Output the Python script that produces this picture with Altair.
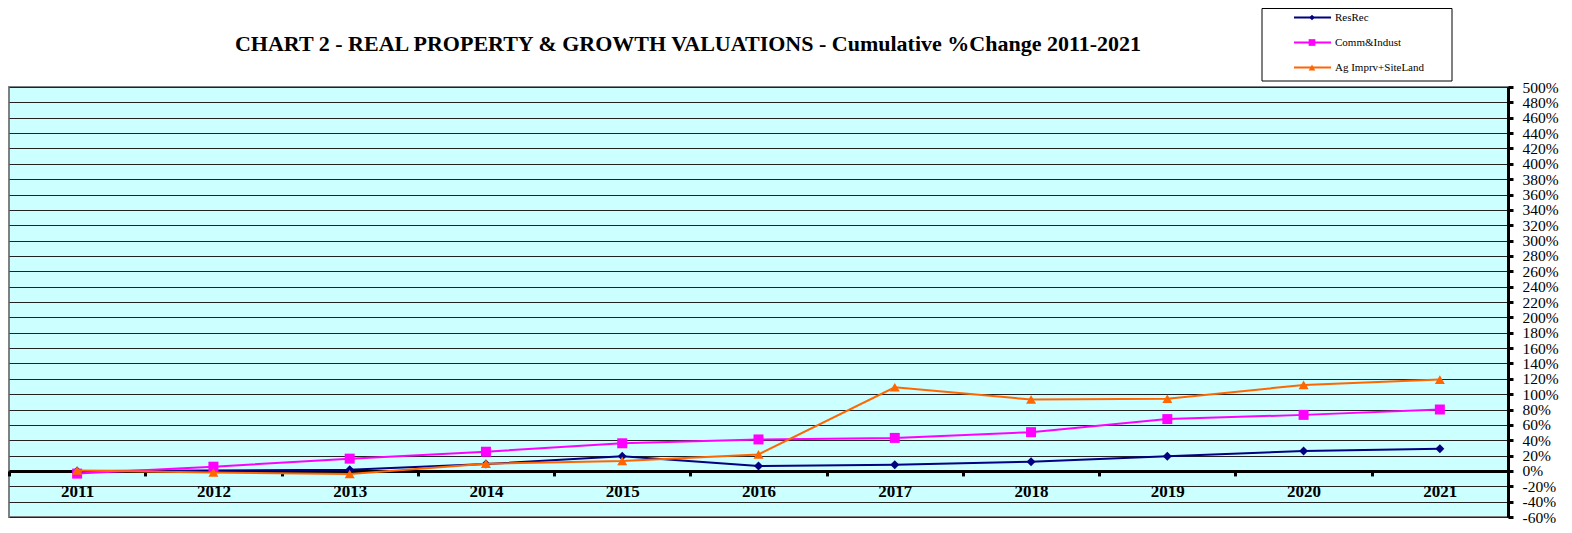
import altair as alt
import pandas as pd

years = ["2011", "2012", "2013", "2014", "2015", "2016", "2017", "2018", "2019", "2020", "2021"]
series_names = ["ResRec", "Comm&Indust", "Ag Imprv+SiteLand"]
resrec = [0, 0.5, 1.5, 9, 19, 6.5, 8, 12, 19, 26, 29]
comm = [-3.5, 5.5, 16, 25, 36, 41, 43, 50.5, 67.5, 73, 80]
ag = [0.5, -2, -4, 9.5, 13, 21.5, 109, 93, 94, 112, 119]
y_ticks = [-60, -40, -20, 0, 20, 40, 60, 80, 100, 120, 140, 160, 180, 200, 220, 240,
           260, 280, 300, 320, 340, 360, 380, 400, 420, 440, 460, 480, 500]
title_text = "CHART 2 - REAL PROPERTY & GROWTH VALUATIONS - Cumulative %Change 2011-2021"

colors = ["#000080", "#FF00FF", "#FF6600"]
shapes = ["diamond", "square", "triangle-up"]
marker_sizes = [80, 100, 100]
legend_marker_sizes = [30, 45, 45]

rows = []
for name, vals in zip(series_names, [resrec, comm, ag]):
    for yr, v in zip(years, vals):
        rows.append({"year": yr, "series": name, "value": v})
df = pd.DataFrame(rows)
legend_df = pd.DataFrame({"series": series_names})

W, H = 1499, 430
TOP = 79
FONT = "Liberation Serif"
zero_off = -H * 60 / 560

x_enc = alt.X(
    "year:O",
    sort=years,
    scale=alt.Scale(type="band", paddingInner=0, paddingOuter=0),
    axis=alt.Axis(
        title=None, orient="bottom", offset=zero_off, domainColor="black", domainWidth=3,
        tickBand="extent", tickColor="black", tickWidth=3, tickSize=5,
        labelFont=FONT, labelFontSize=17, labelFontWeight="bold", labelColor="black",
        labelPadding=8, labelAngle=0, grid=False,
    ),
)
y_enc = alt.Y(
    "value:Q",
    scale=alt.Scale(domain=[-60, 500], nice=False, zero=False),
    axis=alt.Axis(
        orient="right", values=y_ticks, labelExpr="datum.value + '%'", title=None,
        domainColor="black", domainWidth=3, tickColor="black", tickWidth=3, tickSize=5,
        labelFont=FONT, labelFontSize=15.5, labelColor="black", labelPadding=9,
        labelBaseline="middle", labelOverlap=False, labelFlush=False,
        grid=True, gridColor="#222222", gridWidth=1,
    ),
)
color_enc = alt.Color("series:N", scale=alt.Scale(domain=series_names, range=colors), legend=None)

layers = []
for i, name in enumerate(series_names):
    base = alt.Chart(df).transform_filter(alt.datum.series == name)
    line = base.mark_line(strokeWidth=2).encode(x=x_enc, y=y_enc, color=color_enc)
    pts = base.mark_point(filled=True, opacity=1, shape=shapes[i], size=marker_sizes[i]).encode(
        x=x_enc, y=y_enc, color=color_enc
    )
    layers += [line, pts]
main = alt.layer(*layers)

# legend (custom, data-driven from series names)
ly = alt.Y(
    "series:N",
    sort=series_names,
    scale=alt.Scale(type="point", domain=series_names, range=[17.5 - 8 - TOP, 67.5 - 8 - TOP], padding=0),
    axis=None,
)
box = alt.Chart(alt.Data(values=[{"a": 1}])).mark_rect(
    fill="white", stroke="black", strokeWidth=1
).encode(x=alt.value(1253), x2=alt.value(1443), y=alt.value(-TOP + 0.5), y2=alt.value(81 - 8 - TOP))
leg_rules = alt.Chart(legend_df).mark_rule(strokeWidth=2).encode(
    x=alt.value(1285), x2=alt.value(1322), y=ly, color=color_enc
)
leg_layers = [box, leg_rules]
for i, name in enumerate(series_names):
    leg_layers.append(
        alt.Chart(legend_df).transform_filter(alt.datum.series == name)
        .mark_point(filled=True, opacity=1, shape=shapes[i], size=legend_marker_sizes[i])
        .encode(x=alt.value(1303), y=ly, color=color_enc)
    )
leg_text = alt.Chart(legend_df).mark_text(
    align="left", baseline="middle", font=FONT, fontSize=11, color="black"
).encode(x=alt.value(1326), y=ly, text="series:N")
leg_layers.append(leg_text)
legend = alt.layer(*leg_layers)

title = alt.Chart(alt.Data(values=[{"t": title_text}])).mark_text(
    align="center", baseline="middle", font=FONT, fontSize=22, fontWeight="bold", color="black"
).encode(x=alt.value(679), y=alt.value(44 - 8 - TOP), text="t:N")

chart = (
    alt.layer(main, legend, title)
    .resolve_scale(y="independent")
    .properties(
        width=W, height=H, autosize="none",
        padding={"left": 1, "top": TOP, "right": 56, "bottom": 8},
        background="white",
    )
    .configure_view(fill="#CCFFFF", stroke="#808080", strokeWidth=2)
)

chart.save("out.html", embed_options={"renderer": "svg", "actions": False})
